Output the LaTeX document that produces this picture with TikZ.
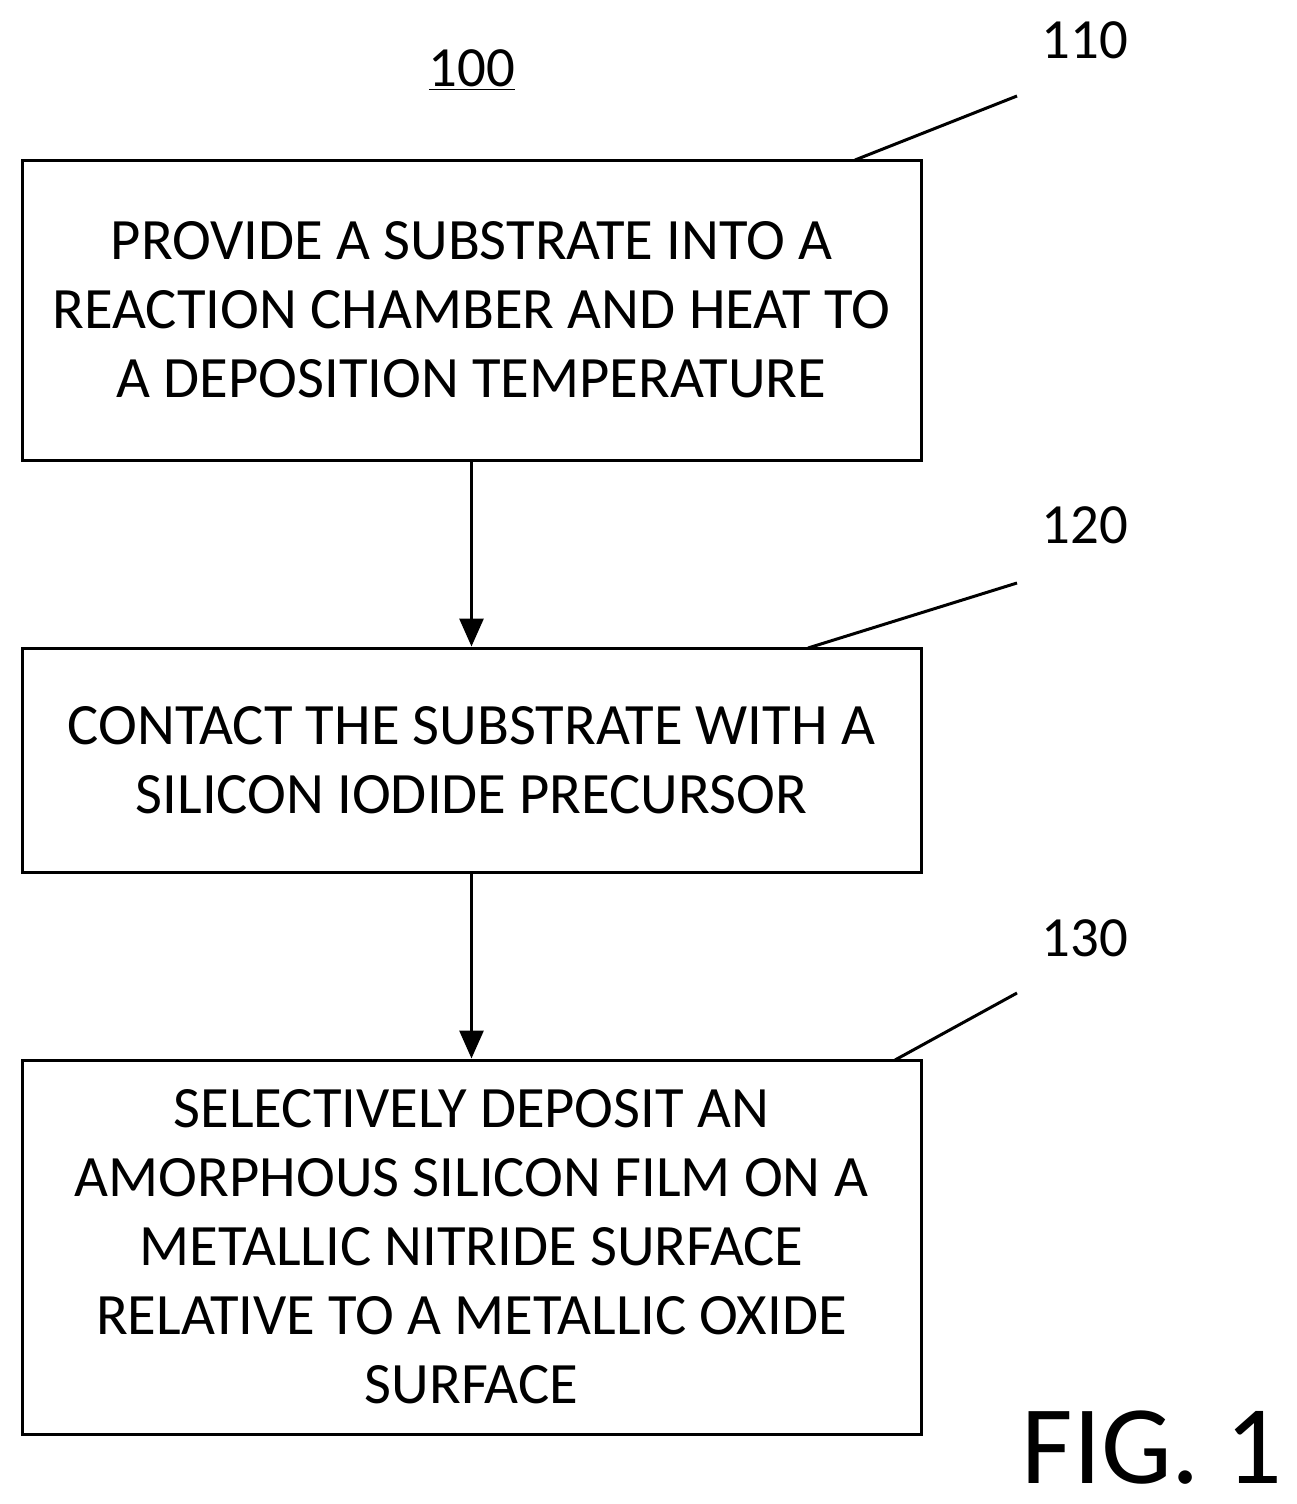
\documentclass[tikz,border=0pt]{standalone}
\usepackage{fontspec}
\setmainfont{Carlito}
\usetikzlibrary{arrows.meta}
\begin{document}
\begin{tikzpicture}[x=0.5pt,y=-0.5pt,
  box/.style={draw,line width=1.5pt,align=center,font=\fontsize{29.3}{34.5}\selectfont,inner sep=0pt},
  lbl/.style={font=\fontsize{28.4}{30}\selectfont},
  lead/.style={line width=1.5pt},
  arr/.style={line width=1.5pt,-{Triangle[length=14pt,width=12pt]}}]
\useasboundingbox (0,0) rectangle (1296,1504);
\node[box,minimum width=449.5pt,minimum height=150pt] (b1) at (471.5,310) {PROVIDE A SUBSTRATE INTO A\\REACTION CHAMBER AND HEAT TO\\A DEPOSITION TEMPERATURE};
\node[box,minimum width=449.5pt,minimum height=112pt] (b2) at (471.5,760) {CONTACT THE SUBSTRATE WITH A\\SILICON IODIDE PRECURSOR};
\node[box,minimum width=449.5pt,minimum height=187pt] (b3) at (471.5,1247) {SELECTIVELY DEPOSIT AN\\AMORPHOUS SILICON FILM ON A\\METALLIC NITRIDE SURFACE\\RELATIVE TO A METALLIC OXIDE\\SURFACE};
\draw[arr] (b1.south) -- (b2.north);
\draw[arr] (b2.south) -- (b3.north);
\node[lbl] (t100) at (472,70) {\underline{100}};
\node[lbl] (t110) at (1085,40) {110};
\node[lbl] (t120) at (1085,525) {120};
\node[lbl] (t130) at (1085,938) {130};
\coordinate (e1) at (1017,96);
\coordinate (e2) at (1017,583);
\coordinate (e3) at (1017,993);
\draw[lead] (855,160) -- (e1);
\draw[lead] (808,648) -- (e2);
\draw[lead] (895,1060) -- (e3);
\node[font=\fontsize{56}{62}\selectfont,inner sep=0pt] (fig) at (1152,1448) {FIG. 1};
\end{tikzpicture}
\end{document}
